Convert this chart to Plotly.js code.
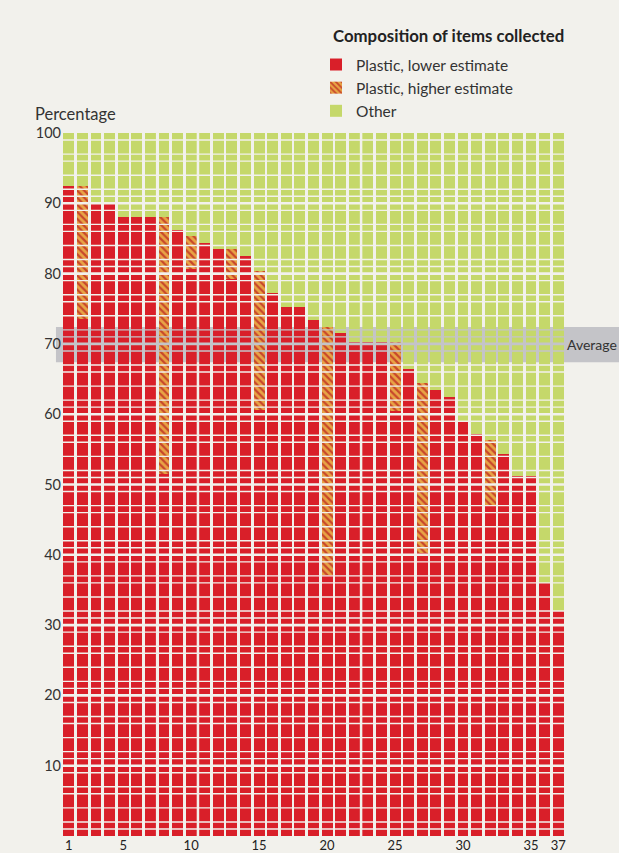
<!DOCTYPE html>
<html>
<head>
<meta charset="utf-8">
<script src="https://cdn.plot.ly/plotly-3.0.1.min.js"></script>
<style>
html,body{margin:0;padding:0;background:#f2f1ec;}
#chart{width:619px;height:853px;}
</style>
</head>
<body>
<div id="chart"></div>
<script>
// ---- data ----
const beaches = [1,2,3,4,5,6,7,8,9,10,11,12,13,14,15,16,17,18,19,20,21,22,23,24,25,26,27,28,29,30,31,32,33,34,35,36,37];
const plasticLower = [92.4,73.5,90.1,90.1,88.1,88.1,88.1,51.5,86.2,80.7,84.4,83.5,79.3,82.5,60.6,77.3,75.3,75.3,73.4,37.1,71.5,70.2,70.2,70.2,60.5,66.4,40.3,63.4,62.4,59.1,57.2,47.1,54.3,51.2,51.2,36.0,32.0];
const plasticHigher = [92.4,92.4,90.1,90.1,88.1,88.1,88.1,88.1,86.2,85.3,84.4,83.5,83.5,82.5,80.4,77.3,75.3,75.3,73.4,72.4,71.5,70.2,70.2,70.2,70.2,66.4,64.4,63.4,62.4,59.1,57.2,56.3,54.3,51.2,51.2,36.0,32.0];
const xTickVals = [1,5,10,15,20,25,30,35,37];
const yTickVals = [10,20,30,40,50,60,70,80,90,100];
const averageBand = [67.4, 72.4];
const groupSeparators = [3.5,7.5,10.5,14.5,18.5,22.5,26.5,29.5,33.5];
const seriesNames = ['Plastic, lower estimate','Plastic, higher estimate','Other'];
const legendTitle = 'Composition of items collected';

// ---- derived ----
const hatchPart = plasticHigher.map((h,i)=> +(h - plasticLower[i]).toFixed(2));
const otherPart = plasticHigher.map(h=> +(100 - h).toFixed(2));

const BG = '#f2f1ec';
const BAND = '#c4c4c8';
const RED = '#d91f29';
const GREEN = '#c5d86a';
const FONT = 'Lato, "Open Sans", sans-serif';

const traces = [
  {type:'bar', name:seriesNames[0], x:beaches, y:plasticLower,
   marker:{color:RED, line:{width:0}}, hoverinfo:'skip'},
  {type:'bar', name:seriesNames[1], x:beaches, y:hatchPart,
   marker:{color:'#e8a445', line:{width:0},
     pattern:{shape:'\\', fgcolor:'#c8472b', bgcolor:'#e8a445', size:5, solidity:0.45, fillmode:'replace'}},
   hoverinfo:'skip'},
  {type:'bar', name:seriesNames[2], x:beaches, y:otherPart,
   marker:{color:GREEN, line:{width:0}}, hoverinfo:'skip'}
];

// ---- decorative tile grid (gaps) ----
const shapes = [];
shapes.push({type:'rect', layer:'below', xref:'paper', yref:'y', x0:-0.012, x1:1.2,
  y0:averageBand[0], y1:averageBand[1], fillcolor:BAND, line:{width:0}});
const inBand = v => v >= averageBand[0] && v <= averageBand[1];
const offsets = [1,2,4,6,7,9];
for (let d = 0; d < 100; d += 10) {
  if (d > 0) {
    shapes.push({type:'line', layer:'above', xref:'x', yref:'y', x0:0.5, x1:37.5, y0:d, y1:d,
      line:{color: inBand(d)?BAND:BG, width:2.6}});
  }
  offsets.forEach(o => {
    const v = d + o;
    shapes.push({type:'line', layer:'above', xref:'x', yref:'y', x0:0.5, x1:37.5, y0:v, y1:v,
      line:{color: inBand(v)?BAND:BG, width:1.4}});
  });
}
groupSeparators.forEach(s => {
  shapes.push({type:'line', layer:'above', xref:'x', yref:'y', x0:s, x1:s, y0:0, y1:averageBand[0], line:{color:BG, width:2.5}});
  shapes.push({type:'line', layer:'above', xref:'x', yref:'y', x0:s, x1:s, y0:averageBand[0], y1:averageBand[1], line:{color:BAND, width:2.5}});
  shapes.push({type:'line', layer:'above', xref:'x', yref:'y', x0:s, x1:s, y0:averageBand[1], y1:100, line:{color:BG, width:2.5}});
});

const layout = {
  width:619, height:853,
  margin:{l:62, r:54, t:133, b:17},
  paper_bgcolor:BG, plot_bgcolor:BG,
  barmode:'stack', bargap:0.2,
  font:{family:FONT, color:'#333'},
  showlegend:true,
  legend:{
    x:0.505, xanchor:'left', y:1.121, yanchor:'top',
    bgcolor:'rgba(0,0,0,0)', traceorder:'normal',
    font:{family:FONT, size:15.5, color:'#333'},
    itemwidth:30, tracegroupgap:0
  },
  xaxis:{range:[0.5,37.5], tickmode:'array', tickvals:xTickVals, ticktext:xTickVals.map(String),
    showgrid:false, zeroline:false, showline:false, ticks:'',
    tickfont:{family:FONT, size:13, color:'#222'}, fixedrange:true},
  yaxis:{range:[0,100], tickmode:'array', tickvals:yTickVals, ticktext:yTickVals.map(String),
    showgrid:false, zeroline:false, showline:false, ticks:'',
    tickfont:{family:FONT, size:14.5, color:'#333'}, fixedrange:true},
  shapes:shapes,
  annotations:[
    {text:'<b>'+legendTitle+'</b>', xref:'paper', yref:'paper', x:0.535, y:1.138, xanchor:'left', yanchor:'middle',
     showarrow:false, font:{family:FONT, size:16.8, color:'#222'}},
    {text:'Percentage', xref:'paper', yref:'paper', x:-0.058, y:1.0105, xanchor:'left', yanchor:'bottom',
     showarrow:false, font:{family:FONT, size:16.5, color:'#333'}},
    {text:'Average', xref:'paper', yref:'y', x:1.0, y:(averageBand[0]+averageBand[1])/2, xanchor:'left', yanchor:'middle',
     showarrow:false, font:{family:FONT, size:14, color:'#333'}}
  ]
};

Plotly.newPlot('chart', traces, layout, {displayModeBar:false, staticPlot:true});
</script>
</body>
</html>
